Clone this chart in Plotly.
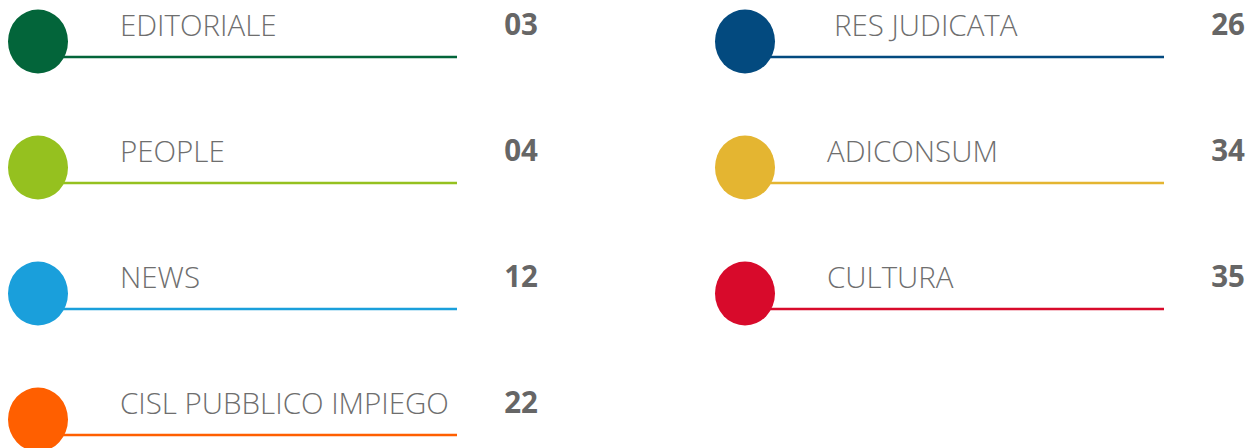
import plotly.graph_objects as go

# Data
sections = ["EDITORIALE", "PEOPLE", "NEWS", "CISL PUBBLICO IMPIEGO",
            "RES JUDICATA", "ADICONSUM", "CULTURA"]
pages = ["03", "04", "12", "22", "26", "34", "35"]
colors = ["#03653A", "#95C11F", "#1A9FDB", "#FF5F00",
          "#034A7F", "#E4B531", "#D80A2B"]
columns = [0, 0, 0, 0, 1, 1, 1]
rows = [0, 1, 2, 3, 0, 1, 2]

# Layout geometry (pixel-like axis units)
W, H = 1248, 448
col_dx = 707
row_dy = 126
circ_cx, circ_cy = 38, 41.5
circ_rx, circ_ry = 30, 32
line_x0, line_x1, line_dy = 60, 457, 15.5
text_x, text_dy = 120, -12.5
num_x, num_dy = 538, -13.5
title_dx = [0, 0, 0, 0, 7, 0, 0]

fig = go.Figure()
shapes = []
for name, pg, col, c, r, tdx in zip(sections, pages, colors, columns, rows, title_dx):
    ox = c * col_dx
    cy = circ_cy + r * row_dy
    # underline
    fig.add_trace(go.Scatter(
        x=[line_x0 + ox, line_x1 + ox], y=[cy + line_dy, cy + line_dy],
        mode="lines", line=dict(color=col, width=2.6),
        hoverinfo="skip", showlegend=False))
    # circle
    shapes.append(dict(type="circle", xref="x", yref="y",
                       x0=circ_cx + ox - circ_rx, x1=circ_cx + ox + circ_rx,
                       y0=cy - circ_ry, y1=cy + circ_ry,
                       fillcolor=col, line=dict(width=0), layer="above"))
    # section title
    fig.add_trace(go.Scatter(
        x=[text_x + ox + tdx], y=[cy + text_dy], mode="text", text=[name],
        textposition="middle right", cliponaxis=False,
        textfont=dict(family="Open Sans", size=29.5, color="#6e6e6e", weight=300),
        hoverinfo="skip", showlegend=False))
    # page number
    fig.add_trace(go.Scatter(
        x=[num_x + ox], y=[cy + num_dy], mode="text", text=[pg],
        textposition="middle left", cliponaxis=False,
        textfont=dict(family="Open Sans", size=29.5, color="#666666", weight=700),
        hoverinfo="skip", showlegend=False))

fig.update_layout(
    width=W, height=H,
    margin=dict(l=0, r=0, t=0, b=0),
    paper_bgcolor="white", plot_bgcolor="white",
    xaxis=dict(range=[0, W], visible=False, fixedrange=True),
    yaxis=dict(range=[H, 0], visible=False, fixedrange=True),
    shapes=shapes,
    hovermode=False,
)

fig.write_html(
    "out.html",
    config={"displayModeBar": False, "staticPlot": True},
    post_script="document.body.style.margin='0';document.body.style.overflow='hidden';",
)
